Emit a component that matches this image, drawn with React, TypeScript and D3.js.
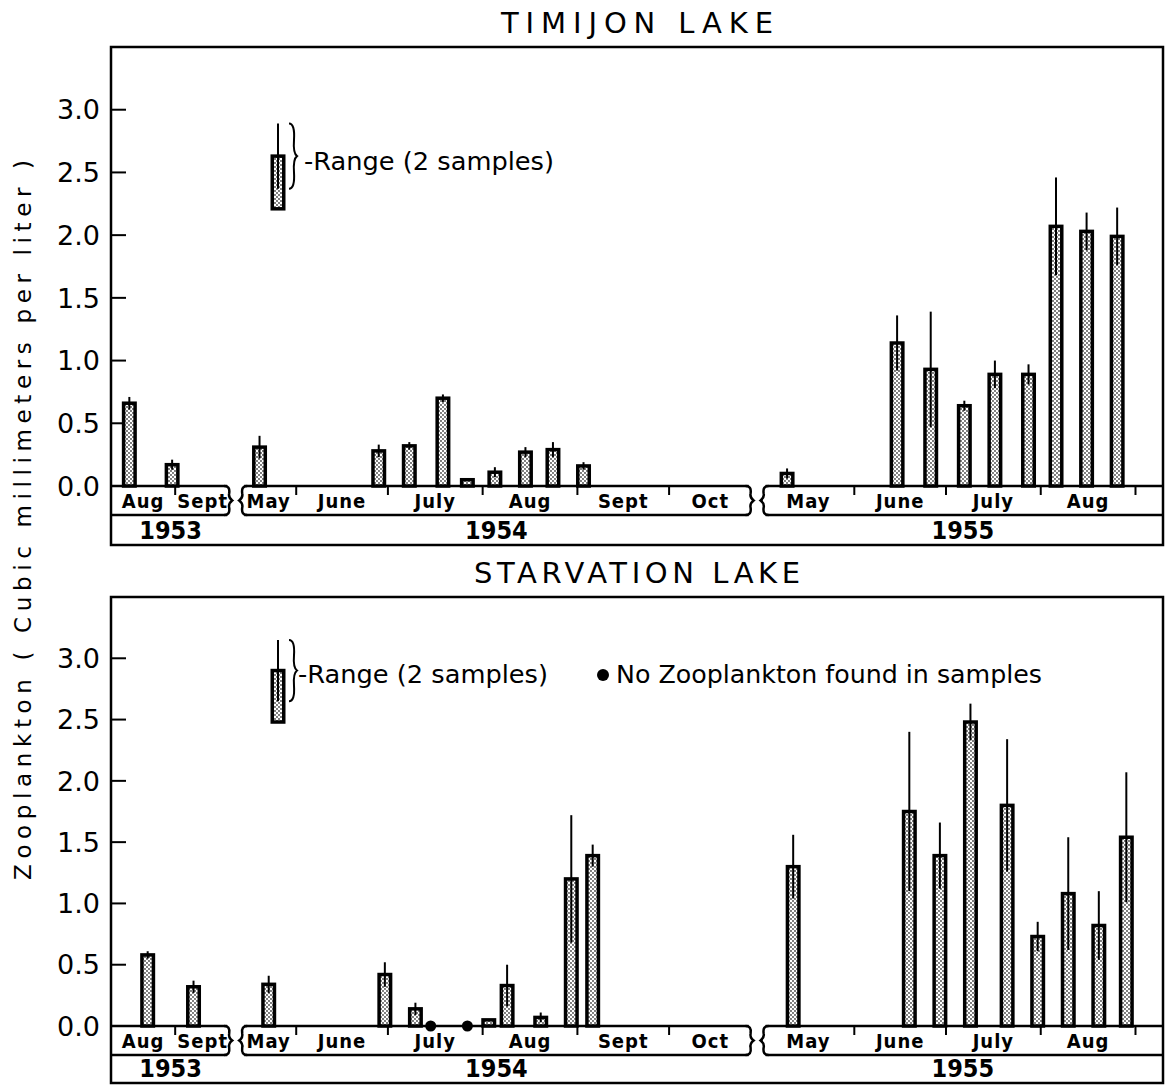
import React from 'react';
import * as d3 from 'd3';

// ---------------- data ----------------
const yTickValues = [0, 0.5, 1.0, 1.5, 2.0, 2.5, 3.0];
const yTickLabels = ['0.0', '0.5', '1.0', '1.5', '2.0', '2.5', '3.0'];

// broken time axis: three continuous runs of dates
const segmentStarts = ['1953-08-11', '1954-05-14', '1955-05-02'];
const segmentEnds = ['1953-09-19', '1954-10-28', '1955-09-10'];
const segmentYears = ['1953', '1954', '1955'];
const segmentMonthStarts = [
  ['1953-08-01', '1953-09-01'],
  ['1954-05-01', '1954-06-01', '1954-07-01', '1954-08-01', '1954-09-01', '1954-10-01'],
  ['1955-05-01', '1955-06-01', '1955-07-01', '1955-08-01', '1955-09-01'],
];
const segmentMonthLabels = [
  ['Aug', 'Sept'],
  ['May', 'June', 'July', 'Aug', 'Sept', 'Oct'],
  ['May', 'June', 'July', 'Aug', ''],
];

// Timijon Lake: mean of 2 samples and the higher sample
const timijonDates = [
  '1953-08-17', '1953-08-31',
  '1954-05-20', '1954-06-28', '1954-07-08', '1954-07-19', '1954-07-27', '1954-08-05',
  '1954-08-15', '1954-08-24', '1954-09-03',
  '1955-05-10', '1955-06-15', '1955-06-26', '1955-07-07', '1955-07-17', '1955-07-28',
  '1955-08-06', '1955-08-16', '1955-08-26',
];
const timijonMean = [0.66, 0.17, 0.31, 0.28, 0.32, 0.70, 0.05, 0.11, 0.27, 0.29, 0.16,
  0.10, 1.14, 0.93, 0.64, 0.89, 0.89, 2.07, 2.03, 1.99];
const timijonHigh = [0.71, 0.21, 0.40, 0.33, 0.35, 0.73, 0.05, 0.15, 0.31, 0.35, 0.19,
  0.14, 1.36, 1.39, 0.68, 1.00, 0.97, 2.46, 2.18, 2.22];

// Starvation Lake
const starvationDates = [
  '1953-08-23', '1953-09-07',
  '1954-05-23', '1954-06-30', '1954-07-10', '1954-08-03', '1954-08-09', '1954-08-20',
  '1954-08-30', '1954-09-06',
  '1955-05-12', '1955-06-19', '1955-06-29', '1955-07-09', '1955-07-21', '1955-07-31',
  '1955-08-10', '1955-08-20', '1955-08-29',
];
const starvationMean = [0.58, 0.32, 0.34, 0.42, 0.14, 0.05, 0.33, 0.07, 1.20, 1.39,
  1.30, 1.75, 1.39, 2.48, 1.80, 0.73, 1.08, 0.82, 1.54];
const starvationHigh = [0.61, 0.37, 0.41, 0.52, 0.19, 0.05, 0.50, 0.11, 1.72, 1.48,
  1.56, 2.40, 1.66, 2.63, 2.34, 0.85, 1.54, 1.10, 2.07];
const starvationNoneDates = ['1954-07-15', '1954-07-27'];

// legend sample bars [low end of bar, bar top, range top]
const timijonLegendBar = [2.21, 2.63, 2.89];
const starvationLegendBar = [2.48, 2.90, 3.15];

// ---------------- layout ----------------
const W = 1166;
const H = 1085;
const FRAME_L = 111;
const FRAME_R = 1163;
const GAP = 11;
const BAR_W = 11.5;
const LABEL_FONT = "'DejaVu Sans', 'Noto Sans', sans-serif";
const AXIS_FONT = "'DejaVu Sans Condensed', 'DejaVu Sans', sans-serif";

const parse = d3.timeParse('%Y-%m-%d');

const segDays = segmentStarts.map((s, i) => d3.timeDay.count(parse(s)!, parse(segmentEnds[i])!));
const pxPerDay = (FRAME_R - FRAME_L - GAP * (segDays.length - 1)) / d3.sum(segDays);
const segScales = (() => {
  let cursor = FRAME_L;
  return segDays.map((d, i) => {
    const x0 = cursor;
    const x1 = x0 + d * pxPerDay;
    cursor = x1 + GAP;
    return d3.scaleTime().domain([parse(segmentStarts[i])!, parse(segmentEnds[i])!]).range([x0, x1]);
  });
})();

function xOf(dateStr: string): number {
  const d = parse(dateStr)!;
  const s = segScales.find((sc) => d >= sc.domain()[0] && d <= sc.domain()[1]) || segScales[0];
  return s(d);
}

function braceRight(x: number, y0: number, y1: number) {
  const h = y1 - y0;
  const m = y0 + h / 2;
  return `M${x - 3},${y0} Q${x + 3},${y0} ${x + 2},${y0 + h * 0.25} Q${x + 1},${m - 3} ${x + 5},${m} Q${x + 1},${m + 3} ${x + 2},${y1 - h * 0.25} Q${x + 3},${y1} ${x - 3},${y1}`;
}
function braceLeft(x: number, y0: number, y1: number) {
  const h = y1 - y0;
  const m = y0 + h / 2;
  return `M${x + 3},${y0} Q${x - 3},${y0} ${x - 2},${y0 + h * 0.25} Q${x - 1},${m - 3} ${x - 5},${m} Q${x - 1},${m + 3} ${x - 2},${y1 - h * 0.25} Q${x - 3},${y1} ${x + 3},${y1}`;
}

type PanelProps = {
  title: string;
  titleWidth: number;
  titleY: number;
  top: number;
  base: number;
  stripBottom: number;
  yearBottom: number;
  dates: string[];
  mean: number[];
  high: number[];
  noneDates?: string[];
  legendBar: number[];
  legendTextX: number;
  legendTextY: number;
  showNoneLegend?: boolean;
};

function Panel(p: PanelProps) {
  const y = d3.scaleLinear().domain([0, 3.5]).range([p.base, p.top]);
  const cx = (FRAME_L + FRAME_R) / 2;

  const bars = p.dates.map((d, i) => {
    const x = xOf(d);
    const m = p.mean[i];
    const hi = p.high[i];
    const lo = Math.max(0, 2 * m - hi);
    return (
      <g key={'b' + i}>
        <rect x={x - BAR_W / 2} y={y(m)} width={BAR_W} height={p.base - y(m)}
          fill="url(#stipple)" stroke="#000" strokeWidth={3.5} />
        {hi > m + 0.001 && (
          <line x1={x} x2={x} y1={y(lo)} y2={y(hi)} stroke="#000" strokeWidth={2} />
        )}
      </g>
    );
  });

  const strips = segScales.map((sc, i) => {
    const [x0, x1] = sc.range();
    const [d0, d1] = sc.domain();
    const months = segmentMonthStarts[i].map((ms, j) => {
      const mStart = parse(ms)!;
      const mEnd = d3.timeMonth.offset(mStart, 1);
      const a = sc(mStart < d0 ? d0 : mStart);
      const b = sc(mEnd > d1 ? d1 : mEnd);
      const showTick = mStart > d0 && mStart < d1;
      return (
        <g key={'m' + j}>
          {showTick && (
            <line x1={sc(mStart)} x2={sc(mStart)} y1={p.base} y2={p.base + 9} stroke="#000" strokeWidth={2} />
          )}
          <text x={(a + b) / 2} y={p.base + 22} textAnchor="middle" fontFamily={AXIS_FONT}
            fontWeight="bold" fontSize={20} letterSpacing={1}>{segmentMonthLabels[i][j]}</text>
        </g>
      );
    });
    return (
      <g key={'s' + i}>
        <line x1={i === 0 ? FRAME_L : x0 + 3} x2={i === segScales.length - 1 ? FRAME_R : x1 - 3}
          y1={p.base} y2={p.base} stroke="#000" strokeWidth={2.5} />
        <line x1={i === 0 ? FRAME_L : x0 + 3} x2={i === segScales.length - 1 ? FRAME_R : x1 - 3}
          y1={p.stripBottom} y2={p.stripBottom} stroke="#000" strokeWidth={2.5} />
        {i > 0 && <path d={braceLeft(x0 + 3, p.base, p.stripBottom)} fill="none" stroke="#000" strokeWidth={2.5} />}
        {i < segScales.length - 1 && <path d={braceRight(x1 - 3, p.base, p.stripBottom)} fill="none" stroke="#000" strokeWidth={2.5} />}
        {months}
        <text x={(x0 + x1) / 2} y={p.yearBottom - 6} textAnchor="middle" fontFamily={AXIS_FONT}
          fontWeight="bold" fontSize={25}>{segmentYears[i]}</text>
      </g>
    );
  });

  const [lb0, lb1, lb2] = p.legendBar;
  const legX = 278;
  const legLo = 2 * lb1 - lb2;

  return (
    <g>
      <text x={cx} y={p.titleY} textAnchor="middle" fontFamily={LABEL_FONT} fontSize={29}
        textLength={p.titleWidth} lengthAdjust="spacing">{p.title}</text>
      <rect x={FRAME_L} y={p.top} width={FRAME_R - FRAME_L} height={p.yearBottom - p.top}
        fill="none" stroke="#000" strokeWidth={2.5} />
      {yTickValues.map((v, i) => (
        <g key={'t' + i}>
          <line x1={FRAME_L} x2={FRAME_L + 15} y1={y(v)} y2={y(v)} stroke="#000" strokeWidth={2} />
          <text x={100} y={y(v)} dy="0.36em" textAnchor="end" fontFamily={LABEL_FONT} fontSize={27}>
            {yTickLabels[i]}
          </text>
        </g>
      ))}
      {strips}
      {bars}
      {(p.noneDates || []).map((d, i) => (
        <circle key={'n' + i} cx={xOf(d)} cy={p.base} r={5.5} fill="#000" />
      ))}
      {/* legend */}
      <rect x={legX - BAR_W / 2} y={y(lb1)} width={BAR_W} height={y(lb0) - y(lb1)}
        fill="url(#stipple)" stroke="#000" strokeWidth={3.5} />
      <line x1={legX} x2={legX} y1={y(legLo)} y2={y(lb2)} stroke="#000" strokeWidth={2} />
      <path d={braceRight(legX + 14, y(lb2), y(legLo))} fill="none" stroke="#000" strokeWidth={2} />
      <text x={p.legendTextX} y={p.legendTextY} fontFamily={LABEL_FONT} fontSize={24}
        textLength={250} lengthAdjust="spacingAndGlyphs">-Range (2 samples)</text>
      {p.showNoneLegend && (
        <g>
          <circle cx={603} cy={p.legendTextY - 8} r={6} fill="#000" />
          <text x={616} y={p.legendTextY} fontFamily={LABEL_FONT} fontSize={24}
            textLength={426} lengthAdjust="spacingAndGlyphs">No Zooplankton found in samples</text>
        </g>
      )}
    </g>
  );
}

export default function App() {
  return (
    <svg width={W} height={H} viewBox={`0 0 ${W} ${H}`}
      style={{ position: 'absolute', left: 0, top: 0, background: '#fff' }}>
      <defs>
        <pattern id="stipple" width={4} height={4} patternUnits="userSpaceOnUse">
          <rect width={4} height={4} fill="#fff" />
          <circle cx={1} cy={1} r={0.9} fill="#444" />
          <circle cx={3} cy={3} r={0.9} fill="#444" />
        </pattern>
      </defs>
      <rect width={W} height={H} fill="#fff" />
      <Panel title="TIMIJON  LAKE" titleWidth={272} titleY={33} top={47} base={486} stripBottom={515}
        yearBottom={545} dates={timijonDates} mean={timijonMean} high={timijonHigh}
        legendBar={timijonLegendBar} legendTextX={304} legendTextY={170} />
      <Panel title="STARVATION  LAKE" titleWidth={326} titleY={583} top={597} base={1026} stripBottom={1055}
        yearBottom={1083} dates={starvationDates} mean={starvationMean} high={starvationHigh}
        noneDates={starvationNoneDates} legendBar={starvationLegendBar} legendTextX={298}
        legendTextY={683} showNoneLegend />
      <text transform="translate(31,520) rotate(-90)" textAnchor="middle" fontFamily={LABEL_FONT}
        fontSize={23} textLength={720} lengthAdjust="spacing">
        Zooplankton  (  Cubic millimeters per liter )
      </text>
    </svg>
  );
}
